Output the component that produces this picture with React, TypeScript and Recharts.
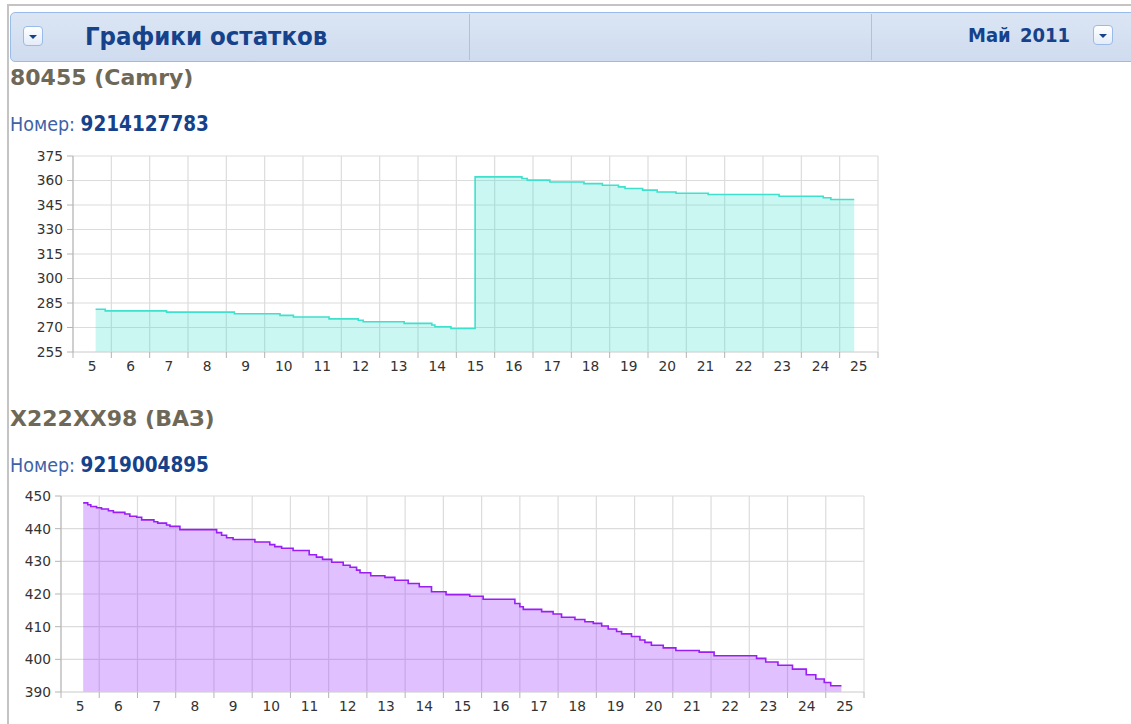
import React from "react";
import { AreaChart, Area, XAxis, YAxis, CartesianGrid } from "recharts";

// day of month (fractional) and balance
const camryDays = [5.09, 5.34, 6.94, 8.71, 9.9, 10.25, 11.18, 11.94, 12.07, 13.14, 13.86, 13.94, 14.36, 14.99, 16.21, 16.35, 16.94, 17.83, 18.31, 18.73, 18.9, 19.36, 19.74, 20.23, 21.07, 22.92, 24.07, 24.27, 24.88];
const camryValues = [281.2, 280.2, 279.4, 278.4, 277.4, 276.4, 275.3, 274.4, 273.5, 272.5, 271.5, 270.5, 269.4, 362.2, 361.2, 360.2, 359.1, 358.1, 357.1, 356.1, 355.1, 354.1, 353.0, 352.2, 351.4, 350.4, 349.4, 348.4, 348.4];

const vazDays = [5.08, 5.2, 5.28, 5.43, 5.56, 5.74, 5.87, 6.17, 6.3, 6.48, 6.61, 6.93, 7.03, 7.26, 7.35, 7.61, 8.57, 8.7, 8.83, 9.0, 9.57, 9.96, 10.09, 10.27, 10.57, 10.99, 11.18, 11.34, 11.58, 11.88, 12.06, 12.23, 12.32, 12.6, 12.97, 13.23, 13.58, 13.87, 14.19, 14.57, 15.19, 15.54, 16.37, 16.5, 16.59, 17.07, 17.37, 17.59, 17.94, 18.2, 18.42, 18.64, 18.81, 19.03, 19.16, 19.42, 19.64, 19.77, 19.94, 20.25, 20.58, 21.19, 21.58, 22.69, 22.93, 23.25, 23.63, 23.99, 24.24, 24.46, 24.63, 24.91];
const vazValues = [447.9, 447.3, 446.8, 446.4, 446.0, 445.5, 445.0, 444.5, 443.8, 443.5, 442.7, 442.1, 441.7, 441.1, 440.7, 439.7, 438.8, 438.0, 437.2, 436.7, 435.9, 435.1, 434.5, 434.0, 433.3, 432.0, 431.3, 430.6, 429.7, 428.8, 428.2, 427.3, 426.5, 425.6, 425.1, 424.2, 423.2, 422.2, 420.7, 419.8, 419.3, 418.4, 417.1, 416.1, 415.3, 414.6, 413.9, 412.9, 412.2, 411.5, 411.0, 410.2, 409.3, 408.5, 407.8, 407.0, 405.9, 405.2, 404.3, 403.5, 402.7, 402.2, 401.1, 400.3, 399.2, 398.2, 397.0, 395.3, 394.0, 392.9, 391.9, 391.9];

const dayLabels = [5, 6, 7, 8, 9, 10, 11, 12, 13, 14, 15, 16, 17, 18, 19, 20, 21, 22, 23, 24, 25];
const dayBounds = [4.5, 5.5, 6.5, 7.5, 8.5, 9.5, 10.5, 11.5, 12.5, 13.5, 14.5, 15.5, 16.5, 17.5, 18.5, 19.5, 20.5, 21.5, 22.5, 23.5, 24.5, 25.5];
const camryTicks = [255, 270, 285, 300, 315, 330, 345, 360, 375];
const vazTicks = [390, 400, 410, 420, 430, 440, 450];

const TITLE = "#15428b";
const AXIS = "#b4b4b4";
const GRID = "#dcdcdc";
const tickFont = { fontSize: 13.75, fill: "#333", fontFamily: "DejaVu Sans" };

interface BalanceProps {
    top: number;
    width: number;
    yWidth: number;
    days: number[];
    values: number[];
    yTicks: number[];
    color: string;
    fill: string;
    opacity: number;
}

function BalanceChart({ top, width, yWidth, days, values, yTicks, color, fill, opacity }: BalanceProps) {
    const data = days.map((d, i) => ({ d, v: values[i] }));
    const domain = [yTicks[0], yTicks[yTicks.length - 1]];
    return (
        <div style={{ position: "absolute", left: 0, top }}>
            <AreaChart width={width} height={236} data={data} margin={{ top: 10, right: 10, left: 0, bottom: 0 }}>
                <CartesianGrid xAxisId="grid" stroke={GRID} strokeWidth={1.2} />
                <XAxis
                    xAxisId="grid"
                    dataKey="d"
                    type="number"
                    domain={[4.5, 25.5]}
                    ticks={dayBounds}
                    interval={0}
                    allowDataOverflow
                    height={1}
                    tick={() => <g />}
                    tickSize={6}
                    tickLine={{ stroke: AXIS }}
                    axisLine={{ stroke: GRID }}
                />
                <XAxis
                    xAxisId="lbl"
                    dataKey="d"
                    type="number"
                    domain={[4.5, 25.5]}
                    ticks={dayLabels}
                    interval={0}
                    allowDataOverflow
                    height={29}
                    tickSize={0}
                    tickMargin={8}
                    tickLine={false}
                    axisLine={false}
                    tick={tickFont}
                />
                <YAxis
                    type="number"
                    domain={domain}
                    ticks={yTicks}
                    interval={0}
                    allowDataOverflow
                    width={yWidth}
                    tickSize={6}
                    tickMargin={4}
                    tick={tickFont}
                    tickLine={{ stroke: AXIS }}
                    axisLine={{ stroke: AXIS }}
                />
                <Area
                    xAxisId="grid"
                    dataKey="v"
                    type="stepAfter"
                    stroke={color}
                    strokeWidth={1.6}
                    fill={fill}
                    fillOpacity={opacity}
                    dot={false}
                    activeDot={false}
                    isAnimationActive={false}
                />
            </AreaChart>
        </div>
    );
}

function DropButton({ left, top }: { left: number; top: number }) {
    return (
        <div
            style={{
                position: "absolute",
                left,
                top,
                width: 20,
                height: 20,
                boxSizing: "border-box",
                border: "1px solid #99bbe8",
                borderRadius: 4,
                background: "linear-gradient(#ffffff, #e4ecf8)",
            }}
        >
            <div
                style={{
                    position: "absolute",
                    left: 5,
                    top: 8,
                    width: 0,
                    height: 0,
                    borderLeft: "4px solid transparent",
                    borderRight: "4px solid transparent",
                    borderTop: "4px solid #15428b",
                }}
            />
        </div>
    );
}

function Section({ top, title, phone }: { top: number; title: string; phone: string }) {
    return (
        <>
            <div
                style={{
                    position: "absolute",
                    left: 10,
                    top,
                    fontFamily: "DejaVu Sans",
                    fontWeight: "bold",
                    fontSize: 22,
                    lineHeight: "24px",
                    color: "#6e6858",
                    whiteSpace: "nowrap",
                }}
            >
                {title}
            </div>
            <div
                style={{
                    position: "absolute",
                    left: 10,
                    top: top + 47,
                    fontFamily: "DejaVu Sans Condensed",
                    fontSize: 19.5,
                    lineHeight: "22px",
                    color: "#3d62a8",
                    whiteSpace: "nowrap",
                }}
            >
                Номер: <span style={{ fontWeight: "bold", color: TITLE, fontSize: 20.5 }}>{phone}</span>
            </div>
        </>
    );
}

export default function App() {
    return (
        <div style={{ position: "absolute", left: 0, top: 0, width: 1131, height: 724, background: "#fff", overflow: "hidden" }}>
            <div style={{ position: "absolute", left: 7, top: 4, width: 1124, height: 2, background: "#c4c4c4" }} />
            <div style={{ position: "absolute", left: 7, top: 4, width: 2, height: 720, background: "#c4c4c4" }} />
            <div
                style={{
                    position: "absolute",
                    left: 10,
                    top: 12,
                    width: 1140,
                    height: 50,
                    boxSizing: "border-box",
                    border: "1px solid #99bbe8",
                    borderRadius: 5,
                    background: "linear-gradient(#dbe5f4, #cfdcef)",
                }}
            />
            <div style={{ position: "absolute", left: 469, top: 14, width: 1, height: 46, background: "#a9c3e6" }} />
            <div style={{ position: "absolute", left: 871, top: 14, width: 1, height: 46, background: "#a9c3e6" }} />
            <DropButton left={23} top={26} />
            <DropButton left={1093} top={25} />
            <div
                style={{
                    position: "absolute",
                    left: 85,
                    top: 21,
                    fontFamily: "DejaVu Sans Condensed",
                    fontWeight: "bold",
                    fontSize: 25.5,
                    lineHeight: "30px",
                    color: TITLE,
                    whiteSpace: "nowrap",
                }}
            >
                Графики остатков
            </div>
            <div
                style={{
                    position: "absolute",
                    left: 968,
                    top: 22,
                    fontFamily: "DejaVu Sans Condensed",
                    fontWeight: "bold",
                    fontSize: 20,
                    lineHeight: "26px",
                    wordSpacing: 3,
                    color: TITLE,
                    whiteSpace: "nowrap",
                }}
            >
                Май 2011
            </div>

            <Section top={66} title="80455 (Camry)" phone="9214127783" />
            <BalanceChart top={146} width={888} yWidth={73} days={camryDays} values={camryValues} yTicks={camryTicks} color="#3fe0cc" fill="#40e0d0" opacity={0.27} />

            <Section top={407} title="X222XX98 (ВАЗ)" phone="9219004895" />
            <BalanceChart top={486} width={874} yWidth={61} days={vazDays} values={vazValues} yTicks={vazTicks} color="#9a1ff5" fill="#9b30ff" opacity={0.3} />
        </div>
    );
}
